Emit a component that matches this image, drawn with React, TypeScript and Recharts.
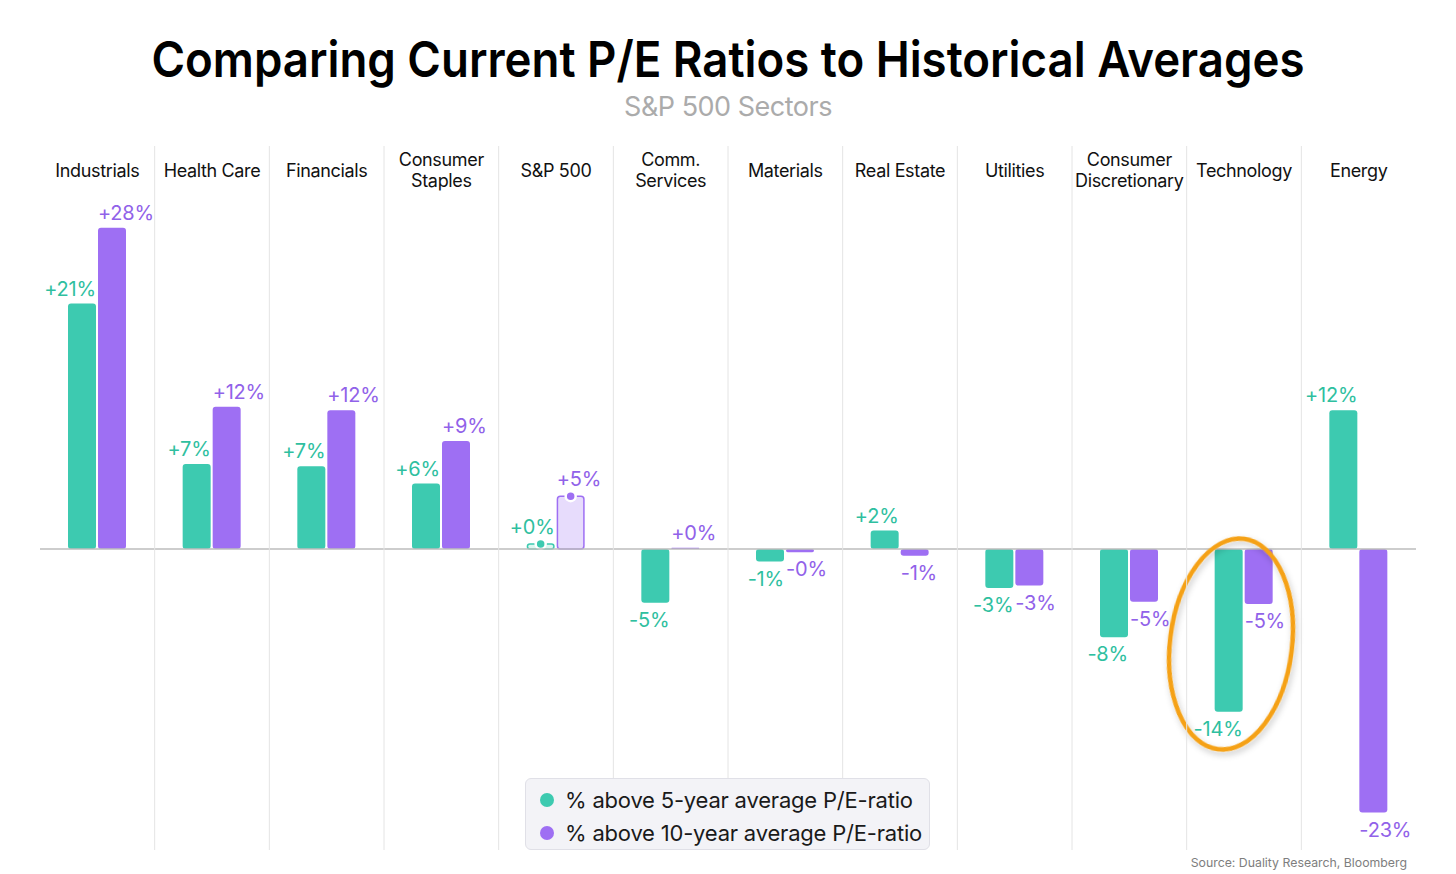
import { BarChart, Bar, XAxis, YAxis, ReferenceLine, ReferenceDot, LabelList, Legend, Rectangle } from 'recharts';

const categories = [
  'Industrials', 'Health Care', 'Financials', 'Consumer Staples', 'S&P 500', 'Comm. Services',
  'Materials', 'Real Estate', 'Utilities', 'Consumer Discretionary', 'Technology', 'Energy',
];
const tickLabels = [
  ['Industrials'], ['Health Care'], ['Financials'], ['Consumer', 'Staples'], ['S&P 500'], ['Comm.', 'Services'],
  ['Materials'], ['Real Estate'], ['Utilities'], ['Consumer', 'Discretionary'], ['Technology'], ['Energy'],
];
const fiveYear = [21.4, 7.4, 7.2, 5.7, 0.2, -4.7, -1.1, 1.6, -3.4, -7.7, -14.2, 12.1];
const tenYear = [28.0, 12.4, 12.1, 9.4, 4.6, 0.1, -0.3, -0.6, -3.2, -4.6, -4.8, -23.0];
const seriesNames = ['% above 5-year average P/E-ratio', '% above 10-year average P/E-ratio'];
const highlighted = 'S&P 500';
const circled = 'Technology';

const data = categories.map((name, i) => ({ name, five: fiveYear[i], ten: tenYear[i] }));

const GREEN = '#3DCAB0';
const GREEN_TEXT = '#2FBF9F';
const GREEN_LIGHT = '#DDF6F0';
const PURPLE = '#9E6FF3';
const PURPLE_TEXT = '#9162E9';
const PURPLE_LIGHT = '#E7DCFC';
const FONT = 'Inter, "Noto Sans", sans-serif';

const W = 1456;
const H = 874;
const MARGIN = { top: 146, right: 40, bottom: 27, left: 40 };
const AXIS_H = 36;
const SEP_TOP = 146;
const SEP_BOTTOM = 850;
const PLOT_W = W - MARGIN.left - MARGIN.right;

const fmt = (v: number) => (v < 0 ? '-' : '+') + Math.round(Math.abs(v)) + '%';

function CategoryTick(props: any) {
  const { payload, index } = props;
  const x = payload.coordinate;
  const half = payload.offset || PLOT_W / categories.length / 2;
  const lines = tickLabels[index] || [payload.value];
  const mid = 176.5;
  return (
    <g>
      {index > 0 && (
        <line x1={x - half} x2={x - half} y1={SEP_TOP} y2={SEP_BOTTOM} stroke="#E4E4E4" strokeWidth={1} />
      )}
      <text x={x} textAnchor="middle" fontSize={18} fontFamily={FONT} fill="#111" letterSpacing={-0.35}>
        {lines.map((l: string, i: number) => (
          <tspan key={i} x={x} y={mid + (i - (lines.length - 1) / 2) * 21}>{l}</tspan>
        ))}
      </text>
    </g>
  );
}

function barShape(color: string, light: string) {
  return (props: any) => {
    const { x, y, width, height, payload } = props;
    const top = Math.min(y, y + height);
    const h = Math.abs(height);
    if (payload.name === highlighted) {
      const hh = Math.max(h, 5);
      const yy = top + h - hh;
      return (
        <g>
          <Rectangle x={x + 0.75} y={yy} width={width - 1.5} height={hh} radius={3} fill={light} stroke={color} strokeWidth={1.5} />
          <circle cx={x + width / 2} cy={yy} r={5} fill={color} stroke="#fff" strokeWidth={2.5} />
        </g>
      );
    }
    return <Rectangle x={x} y={top} width={width} height={h} radius={3} fill={color} />;
  };
}

function barLabel(color: string, side: 'left' | 'right') {
  return (props: any) => {
    const { x, y, width, height, value, index } = props;
    const top = Math.min(y, y + height);
    const bottom = Math.max(y, y + height);
    const h = bottom - top;
    let ty = value >= 0 ? top - 8 : bottom + 24;
    if (categories[index] === highlighted) ty = bottom - Math.max(h, 5) - 10;
    return (
      <text
        x={side === 'right' ? x + width : x}
        y={ty}
        textAnchor={side === 'right' ? 'end' : 'start'}
        fill={color}
        fontSize={20}
        fontFamily={FONT}
        letterSpacing={-0.2}
      >
        {fmt(value)}
      </text>
    );
  };
}

function Scribble(props: any) {
  const cx = props.cx - 13;
  const cy = props.cy;
  return (
    <g>
      <defs>
        <filter id="scribbleShadow" x="-30%" y="-30%" width="160%" height="160%">
          <feDropShadow dx={2} dy={3} stdDeviation={3} floodColor="#000" floodOpacity={0.22} />
        </filter>
      </defs>
      <ellipse
        cx={cx}
        cy={cy}
        rx={61}
        ry={106}
        transform={`rotate(7 ${cx} ${cy})`}
        fill="none"
        stroke="#F5A114"
        strokeWidth={4.5}
        filter="url(#scribbleShadow)"
      />
    </g>
  );
}

function LegendBox() {
  const colors = [GREEN, PURPLE];
  return (
    <div
      style={{
        boxSizing: 'border-box', width: 405, height: 72, background: '#F3F3F7',
        border: '1px solid #E0E0E7', borderRadius: 6, padding: '4px 0 0 14px', fontFamily: FONT,
      }}
    >
      {seriesNames.map((n, i) => (
        <div key={n} style={{
          display: 'flex', alignItems: 'center', height: 33, fontSize: 22, color: '#1A1A1A',
          whiteSpace: 'nowrap', letterSpacing: -0.2,
        }}>
          <span style={{ flex: 'none', width: 14, height: 14, borderRadius: 7, background: colors[i], marginRight: 11 }} />
          {n}
        </div>
      ))}
    </div>
  );
}

export default function App() {
  return (
    <div style={{ position: 'relative', width: W, height: H, background: '#fff' }}>
      <style>{'body{margin:0;}'}</style>
      <svg width={W} height={H} style={{ position: 'absolute', left: 0, top: 0 }}>
        <text x={728} y={77} textAnchor="middle" fontFamily={FONT} fontWeight={600} fontSize={50}
          fill="#000" textLength={1153} lengthAdjust="spacingAndGlyphs">
          Comparing Current P/E Ratios to Historical Averages
        </text>
        <text x={728} y={116} textAnchor="middle" fontFamily={FONT} fontSize={27} fill="#ABABAB" letterSpacing={-0.5}>
          S&amp;P 500 Sectors
        </text>
        <text x={1407} y={867} textAnchor="end" fontFamily={FONT} fontSize={12.3} fill="#7E7E7E">
          Source: Duality Research, Bloomberg
        </text>
      </svg>
      <div style={{ position: 'absolute', left: 0, top: 0 }}>
        <BarChart width={W} height={H} data={data} margin={MARGIN} barSize={28} barGap={2}>
          <XAxis dataKey="name" orientation="top" height={AXIS_H} axisLine={false} tickLine={false}
            interval={0} tick={<CategoryTick />} />
          <YAxis hide domain={[-26, 32]} />
          <ReferenceLine y={0} stroke="#BDBDBD" strokeWidth={1.5} />
          <Bar dataKey="five" name={seriesNames[0]} fill={GREEN} isAnimationActive={false}
            shape={barShape(GREEN, GREEN_LIGHT)}>
            <LabelList dataKey="five" content={barLabel(GREEN_TEXT, 'right')} />
          </Bar>
          <Bar dataKey="ten" name={seriesNames[1]} fill={PURPLE} isAnimationActive={false}
            shape={barShape(PURPLE, PURPLE_LIGHT)}>
            <LabelList dataKey="ten" content={barLabel(PURPLE_TEXT, 'left')} />
          </Bar>
          <ReferenceDot x={circled} y={-8.3} r={1} shape={(p: any) => <Scribble {...p} />} />
          <Legend layout="vertical" align="center" verticalAlign="middle"
            wrapperStyle={{ left: 525, top: 778, width: 405, height: 72 }}
            content={() => <LegendBox />} />
        </BarChart>
      </div>
    </div>
  );
}
